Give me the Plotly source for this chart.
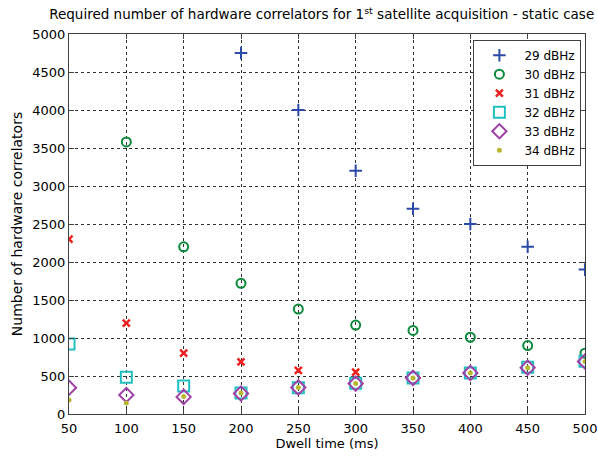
import plotly.graph_objects as go

dwell = [50, 100, 150, 200, 250, 300, 350, 400, 450, 500]

x29 = [200, 250, 300, 350, 400, 450, 500]
y29 = [4750, 4000, 3200, 2700, 2500, 2200, 1900]

x30 = [100, 150, 200, 250, 300, 350, 400, 450, 500]
y30 = [3580, 2200, 1720, 1380, 1170, 1100, 1010, 900, 800]

x31 = [50, 100, 150, 200, 250, 300]
y31 = [2300, 1195, 800, 685, 575, 550]

y32 = [920, 485, 370, 275, 345, 405, 475, 540, 615, 695]
y33 = [345, 250, 225, 270, 350, 400, 475, 540, 610, 690]
y34 = [185, 145, 230, 275, 350, 400, 475, 540, 610, 690]

names = ["29 dBHz", "30 dBHz", "31 dBHz", "32 dBHz", "33 dBHz", "34 dBHz"]

FONT = "DejaVu Sans, Verdana, sans-serif"

fig = go.Figure()
fig.add_trace(go.Scatter(x=x29, y=y29, mode="markers", name=names[0],
                         marker=dict(symbol="cross-thin-open", size=9, color="#2c4aa8",
                                     line=dict(color="#2c4aa8", width=2))))
fig.add_trace(go.Scatter(x=x30, y=y30, mode="markers", name=names[1],
                         marker=dict(symbol="circle-open", size=9, color="#0a8a3a",
                                     line=dict(color="#0a8a3a", width=2))))
fig.add_trace(go.Scatter(x=x31, y=y31, mode="markers", name=names[2],
                         marker=dict(symbol="x-thin-open", size=7, color="#ee2020",
                                     line=dict(color="#ee2020", width=2.5))))
fig.add_trace(go.Scatter(x=dwell, y=y32, mode="markers", name=names[3],
                         marker=dict(symbol="square-open", size=11, color="#20c0c0",
                                     line=dict(color="#20c0c0", width=2))))
fig.add_trace(go.Scatter(x=dwell, y=y33, mode="markers", name=names[4],
                         marker=dict(symbol="diamond-open", size=11, color="#a040a8",
                                     line=dict(color="#a040a8", width=2))))
fig.add_trace(go.Scatter(x=dwell, y=y34, mode="markers", name=names[5],
                         marker=dict(symbol="circle", size=5,
                                     color="#b8b830", line=dict(width=0))))

axis_common = dict(
    showline=True, linecolor="#404040", linewidth=1, mirror="ticks",
    ticks="inside", ticklen=5, tickcolor="#404040",
    showgrid=True, gridcolor="#303030", griddash="3px,3px", gridwidth=1,
    zeroline=False, tickfont=dict(size=13, color="black", family=FONT), automargin=False,
)

fig.update_xaxes(range=[50, 500], tickvals=dwell, ticklabelstandoff=2,
                 title=dict(text="Dwell time (ms)", font=dict(size=13, color="black", family=FONT), standoff=1),
                 **axis_common)
fig.update_yaxes(range=[0, 5000], tickvals=list(range(0, 5001, 500)),
                 title=dict(text="Number of hardware correlators", font=dict(size=14, color="black", family=FONT), standoff=6),
                 **axis_common)

fig.update_layout(
    width=598, height=456,
    margin=dict(l=69, r=13, t=34, b=42),
    paper_bgcolor="white", plot_bgcolor="white",
    font=dict(family=FONT, size=13, color="black"),
    title=dict(text="Required number of hardware correlators for 1<sup>st</sup> satellite acquisition - static case",
               x=0.538, xanchor="center", yref="container", y=0.978, yanchor="top",
               font=dict(size=13.5, family=FONT), automargin=False),
    legend=dict(x=0.993, y=0.985, xanchor="right", yanchor="top",
                bgcolor="white", bordercolor="#404040", borderwidth=1,
                font=dict(size=12, family=FONT), tracegroupgap=0, itemwidth=40),
    showlegend=True,
)

fig.write_html("out.html", config={"displayModeBar": False},
               post_script="document.body.style.margin='0';document.body.style.overflow='hidden';")
